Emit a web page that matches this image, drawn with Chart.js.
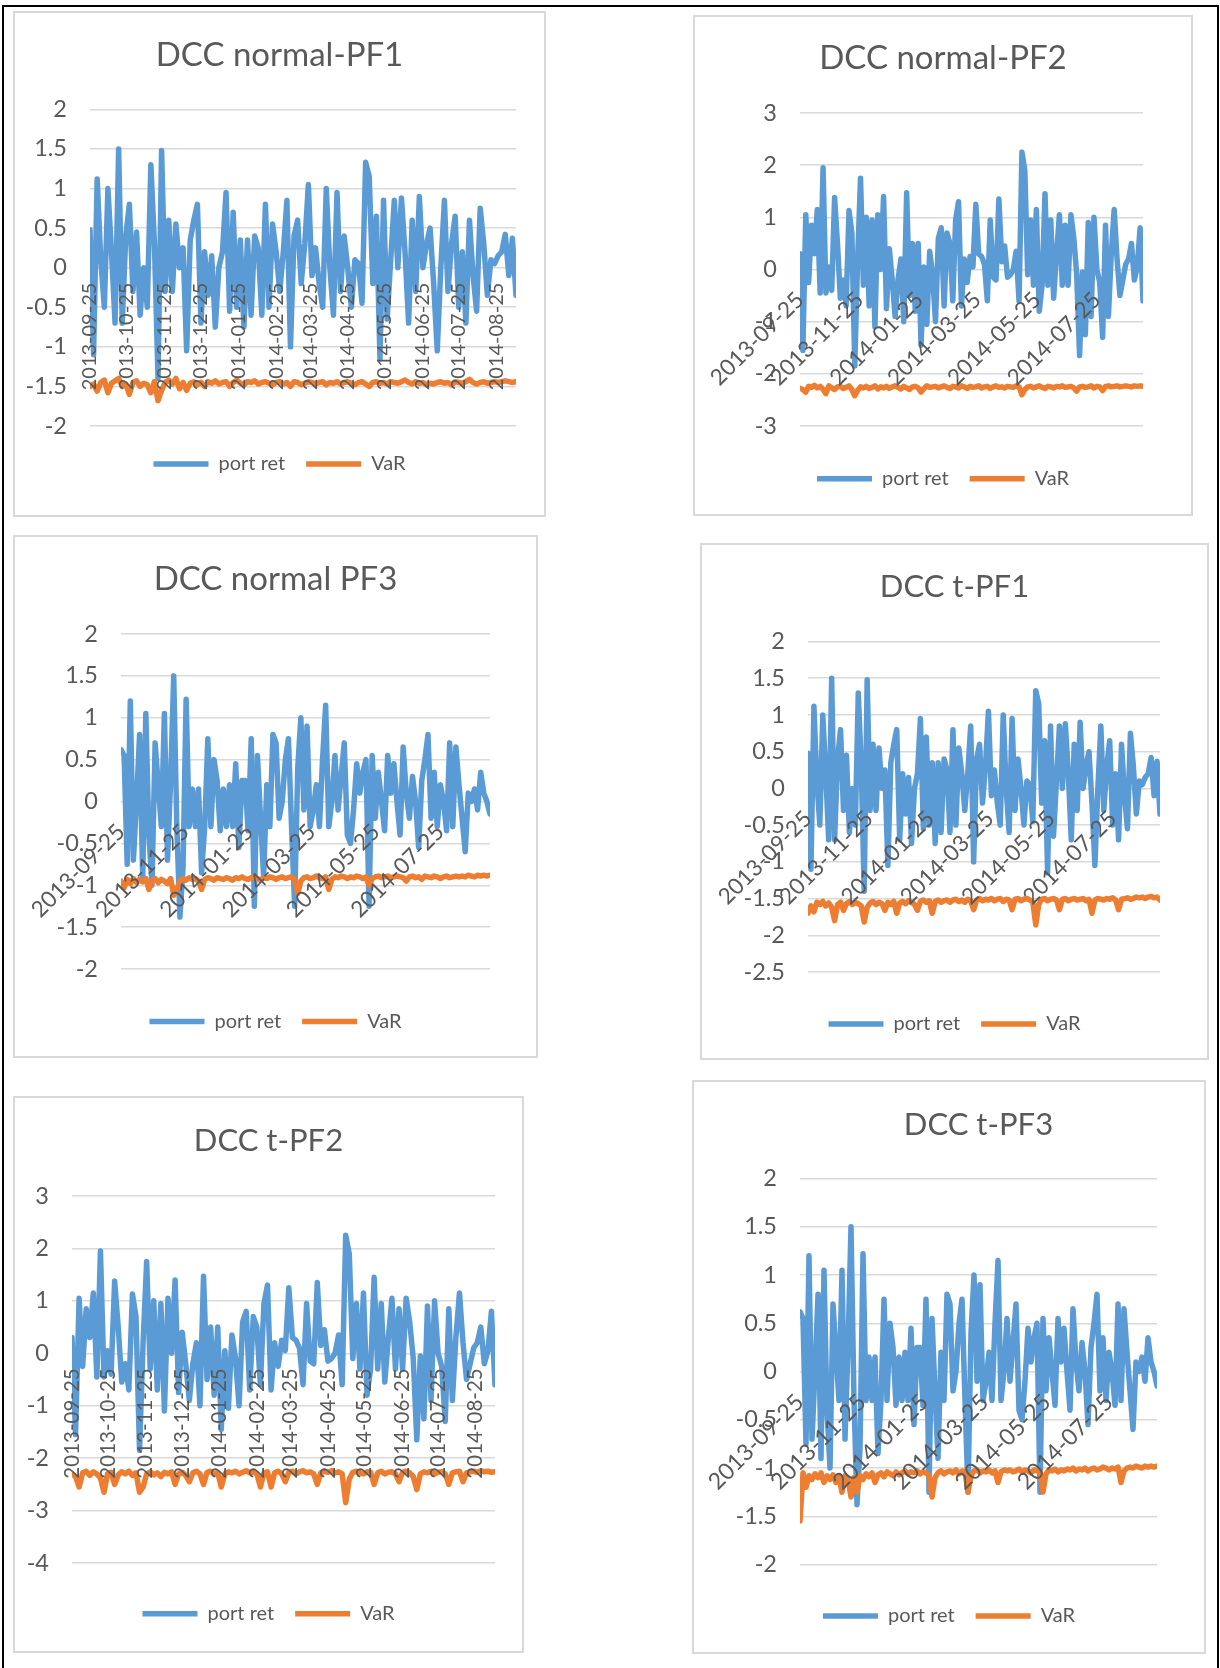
<!DOCTYPE html>
<html>
<head>
<meta charset="utf-8">
<script src="https://cdn.jsdelivr.net/npm/chart.js@4.4.1/dist/chart.umd.min.js"></script>
<style>
  body { margin: 0; background: #fff; width: 1220px; height: 1668px; position: relative; overflow: hidden; }
  #frame { position: absolute; left: 2px; top: 5px; width: 1213px; height: 1700px; border-top: 2px solid #000; border-left: 2px solid #000; border-right: 2px solid #000; }
  .panel { position: absolute; border: 2px solid #d9d9d9; box-sizing: border-box; background: #fff; }
  .panel canvas { position: absolute; left: 0; top: 0; }
</style>
</head>
<body>
<div id="frame"></div>
<script>
// observation window and x-axis tick labels
const seriesStart = '2013-09-25';
const seriesEnd = '2014-09-10';
const monthTicks = ['2013-09-25', '2013-10-25', '2013-11-25', '2013-12-25', '2014-01-25', '2014-02-25',
  '2014-03-25', '2014-04-25', '2014-05-25', '2014-06-25', '2014-07-25', '2014-08-25'];
const bimonthTicks = ['2013-09-25', '2013-11-25', '2014-01-25', '2014-03-25', '2014-05-25', '2014-07-25'];

// portfolio returns (same series in normal and t panels)
const portRetPF1 = [
  0.48, -1.1, 1.12, 0.1, -0.5, 1.0, 0.2, -0.7, 1.5, -0.7,
  0.4, 0.8, -0.3, 0.45, -0.6, 0.0, -0.5, 1.3, 0.3, -1.4,
  1.48, -0.3, 0.6, -0.3, 0.55, 0.0, 0.25, -1.05, 0.35, 0.6,
  0.8, -0.7, 0.2, -0.35, 0.15, -0.75, 0.0, 0.2, 0.95, -0.55,
  0.7, -0.5, 0.35, -0.75, 0.35, -0.6, 0.4, 0.25, -0.6, 0.8,
  -0.5, 0.55, 0.2, -0.3, 0.2, 0.85, -1.0, 0.4, 0.6, -0.2,
  0.3, 1.05, -0.1, 0.25, -0.2, -0.5, 1.0, 0.0, -0.6, 0.95,
  -0.3, 0.4, 0.0, -0.5, 0.1, 0.05, -0.45, 1.33, 1.15, -0.2,
  0.65, -1.15, 0.85, -0.65, 0.1, 0.85, 0.0, 0.88, 0.2, -0.7,
  0.6, -0.3, 0.9, 0.0, 0.3, 0.5, -0.2, -1.05, 0.0, 0.85,
  -0.3, 0.3, 0.65, -0.5, 0.2, -0.7, 0.6, -0.1, -0.55, 0.75,
  0.3, -0.35, 0.1, 0.05, 0.15, 0.2, 0.42, -0.1, 0.37, -0.35
];
const portRetPF2 = [
  0.3, -1.55, 1.05, -0.25, 0.85, 0.3, 1.15, -0.45, 1.95, -0.45,
  0.05, -0.4, 1.38, 0.5, -0.55, -0.2, -0.7, 1.13, 0.7, -1.85,
  0.2, 1.75, -0.3, 1.0, -0.7, 0.95, -1.1, 1.05, 0.0, 1.4,
  -0.75, 0.4, -0.2, -0.9, -0.2, 0.2, -1.0, 1.47, -0.5, 0.5,
  -0.8, 0.5, -1.45, 0.05, -1.05, 0.35, -0.1, -1.0, 0.6, 0.8,
  -0.7, 0.7, 0.5, -0.6, 0.95, 1.3, -0.7, 0.2, -0.25, 0.25,
  0.05, 1.25, 0.3, 0.25, 0.1, -0.6, 0.95, -0.15, -0.2, 1.35,
  0.15, 0.45, -0.15, -0.1, 0.0, 0.35, -0.6, 2.25, 1.9, -0.1,
  0.95, -0.3, 1.15, -0.8, -0.3, 1.45, -0.3, 0.95, -0.55, 0.3,
  1.05, -0.3, 0.85, -0.3, 1.05, 0.6, -0.1, -1.65, -0.05, -1.25,
  0.9, -0.9, 1.0, 0.0, -0.25, -1.3, 0.85, -0.9, 0.3, 1.15,
  0.2, -0.5, -0.2, 0.1, 0.2, 0.5, -0.2, 0.05, 0.8, -0.6
];
const portRetPF3 = [
  0.62, 0.55, -0.75, 1.2, -0.7, 0.0, 0.8, -0.9, 1.05, -0.4,
  -1.0, 0.7, 0.2, -0.3, 1.05, -0.7, 0.25, 1.5, -0.3, -1.38,
  -0.8, 1.22, -0.3, 0.15, -0.3, 0.15, -0.85, -0.3, 0.75, -0.3,
  0.5, 0.25, -0.35, 0.15, -0.3, 0.2, -0.3, 0.45, -0.55, 0.25,
  0.25, -0.35, 0.75, -1.25, 0.55, -0.2, -0.9, 0.2, -0.3, 0.8,
  0.7, -0.2, 0.0, 0.5, 0.75, -0.3, -1.25, 0.4, 1.0, -0.1,
  0.9, -0.3, -0.1, 0.2, -0.3, 0.5, 1.15, -0.3, 0.0, 0.55,
  -0.1, 0.3, 0.7, -0.4, -0.5, -0.1, 0.45, 0.1, 0.35, 0.5,
  -1.25, 0.55, -0.2, 0.35, 0.0, -0.35, 0.55, 0.1, 0.45, 0.0,
  -0.4, 0.65, 0.1, -0.2, 0.3, 0.0, -0.55, 0.25, 0.5, 0.8,
  -0.2, 0.35, -0.3, 0.2, 0.0, -0.35, 0.7, -0.3, 0.65, 0.2,
  -0.2, -0.6, 0.1, 0.0, 0.15, -0.1, 0.35, 0.1, 0.0, -0.15
];

// VaR series
const varNormalPF1 = [
  -1.50, -1.47, -1.56, -1.45, -1.42, -1.58, -1.46, -1.43, -1.40, -1.50,
  -1.47, -1.60, -1.45, -1.43, -1.50, -1.46, -1.48, -1.58, -1.44, -1.68,
  -1.55, -1.45, -1.42, -1.47, -1.40, -1.53, -1.45, -1.55, -1.46, -1.44,
  -1.48, -1.45, -1.50, -1.44, -1.46, -1.43, -1.47, -1.45, -1.44, -1.50,
  -1.45, -1.42, -1.46, -1.48, -1.44, -1.45, -1.43, -1.47, -1.45, -1.44,
  -1.46, -1.48, -1.45, -1.44, -1.47, -1.45, -1.50, -1.44, -1.45, -1.48,
  -1.46, -1.44, -1.45, -1.47, -1.45, -1.44, -1.48, -1.45, -1.46, -1.44,
  -1.47, -1.45, -1.44, -1.46, -1.48, -1.45, -1.44, -1.47, -1.50, -1.45,
  -1.44, -1.46, -1.45, -1.47, -1.44, -1.45, -1.46, -1.44, -1.42, -1.45,
  -1.47, -1.44, -1.46, -1.45, -1.48, -1.46, -1.47, -1.45, -1.44, -1.46,
  -1.45, -1.48, -1.44, -1.45, -1.46, -1.44, -1.41, -1.45, -1.47, -1.45,
  -1.44, -1.46, -1.45, -1.44, -1.45, -1.44, -1.43, -1.44, -1.45, -1.44
];
const varNormalPF2 = [
  -2.28, -2.30, -2.35, -2.24, -2.26, -2.22, -2.27, -2.24, -2.30, -2.38,
  -2.23, -2.27, -2.30, -2.25, -2.24, -2.28, -2.26, -2.23, -2.30, -2.42,
  -2.32, -2.25, -2.27, -2.24, -2.28, -2.26, -2.23, -2.29, -2.25, -2.27,
  -2.24, -2.28, -2.25, -2.23, -2.26, -2.29, -2.24, -2.27, -2.30, -2.25,
  -2.24, -2.27, -2.35, -2.28, -2.23, -2.26, -2.25, -2.24, -2.27, -2.25,
  -2.23, -2.26, -2.28, -2.24, -2.25, -2.27, -2.23, -2.25, -2.28, -2.24,
  -2.26, -2.25, -2.23, -2.27, -2.25, -2.24, -2.28, -2.25, -2.23, -2.26,
  -2.25, -2.27, -2.24, -2.25, -2.26, -2.23, -2.25, -2.40, -2.30, -2.25,
  -2.24, -2.27, -2.25, -2.23, -2.26, -2.28, -2.24, -2.25, -2.27, -2.24,
  -2.25, -2.23, -2.26, -2.25, -2.24, -2.27, -2.33, -2.25, -2.24, -2.26,
  -2.25, -2.23, -2.27, -2.24, -2.25, -2.32, -2.24, -2.23, -2.25, -2.24,
  -2.23, -2.25, -2.24, -2.23, -2.24, -2.25, -2.23, -2.24, -2.23, -2.24
];
const varNormalPF3 = [
  -0.95, -1.03, -0.93, -0.98, -0.92, -0.97, -0.93, -0.96, -0.92, -1.05,
  -0.95, -0.92, -0.97, -0.93, -0.95, -0.98, -0.92, -1.12, -1.05, -0.95,
  -0.92, -0.94, -0.91, -0.93, -0.92, -0.95, -1.05, -0.93, -0.91, -0.92,
  -0.94, -0.91, -0.92, -0.93, -0.91, -0.92, -0.94, -0.91, -0.92, -0.90,
  -0.92, -0.93, -0.91, -0.90, -0.92, -0.94, -0.91, -0.92, -0.90, -0.91,
  -0.93, -0.91, -0.90, -0.92, -0.91, -0.90, -0.93, -1.10, -0.95, -0.91,
  -0.90, -0.92, -0.91, -0.89, -0.91, -0.92, -0.90, -1.05, -0.93, -0.90,
  -0.91, -0.89, -0.90, -0.92, -0.90, -0.91, -0.89, -0.90, -0.92, -0.90,
  -1.00, -0.92, -0.90, -0.89, -0.91, -0.90, -0.89, -0.91, -0.90, -0.89,
  -0.90, -0.91, -0.95, -0.90, -0.89, -0.91, -0.90, -0.93, -0.89, -0.90,
  -0.91, -0.89, -0.90, -0.92, -0.90, -0.89, -0.91, -0.90, -0.89, -0.90,
  -0.89, -0.90, -0.88, -0.89, -0.90, -0.88, -0.89, -0.88, -0.89, -0.88
];
const varTPF1 = [
  -1.70, -1.60, -1.68, -1.55, -1.58, -1.54, -1.60, -1.56, -1.62, -1.80,
  -1.58, -1.55, -1.66, -1.57, -1.54, -1.58, -1.55, -1.57, -1.60, -1.82,
  -1.62, -1.56, -1.54, -1.58, -1.55, -1.57, -1.66, -1.55, -1.58, -1.54,
  -1.70, -1.56, -1.54, -1.57, -1.53, -1.55, -1.58, -1.66, -1.54, -1.52,
  -1.55, -1.53, -1.70, -1.54, -1.52, -1.55, -1.53, -1.52, -1.55, -1.52,
  -1.51, -1.54, -1.52, -1.55, -1.51, -1.53, -1.65, -1.52, -1.50, -1.53,
  -1.51, -1.52, -1.50, -1.53, -1.51, -1.50, -1.54, -1.51, -1.52, -1.65,
  -1.51, -1.50, -1.53, -1.51, -1.50, -1.52, -1.55, -1.86, -1.58, -1.51,
  -1.50, -1.53, -1.51, -1.50, -1.52, -1.65, -1.51, -1.50, -1.53, -1.51,
  -1.50, -1.52, -1.51, -1.50, -1.53, -1.51, -1.70, -1.52, -1.50, -1.51,
  -1.52, -1.50, -1.51, -1.49, -1.52, -1.65, -1.51, -1.50, -1.49, -1.51,
  -1.50, -1.48, -1.49, -1.48, -1.50, -1.48, -1.47, -1.49, -1.48, -1.52
];
const varTPF2 = [
  -2.30, -2.35, -2.55, -2.28, -2.25, -2.33, -2.26, -2.30, -2.38, -2.65,
  -2.30, -2.27, -2.50, -2.32, -2.26, -2.30, -2.25, -2.33, -2.28, -2.65,
  -2.55, -2.30, -2.26, -2.32, -2.28, -2.35, -2.27, -2.30, -2.26, -2.50,
  -2.30, -2.27, -2.33, -2.45, -2.28, -2.25, -2.30, -2.50, -2.27, -2.25,
  -2.30, -2.28, -2.55, -2.30, -2.26, -2.28, -2.25, -2.30, -2.27, -2.24,
  -2.28, -2.26, -2.30, -2.55, -2.28, -2.26, -2.55, -2.28, -2.25, -2.30,
  -2.45, -2.27, -2.25, -2.30, -2.26, -2.24, -2.28, -2.26, -2.30, -2.50,
  -2.28, -2.25, -2.27, -2.24, -2.28, -2.26, -2.30, -2.85, -2.40, -2.27,
  -2.25, -2.28, -2.30, -2.26, -2.27, -2.50, -2.28, -2.25, -2.30, -2.27,
  -2.26, -2.30, -2.45, -2.27, -2.25, -2.28, -2.35, -2.60, -2.30, -2.26,
  -2.28, -2.25, -2.30, -2.27, -2.26, -2.30, -2.50, -2.28, -2.26, -2.25,
  -2.45, -2.28, -2.26, -2.25, -2.27, -2.24, -2.26, -2.25, -2.27, -2.26
];
const varTPF3 = [
  -1.55, -1.05, -1.20, -1.08, -1.12, -1.06, -1.10, -1.05, -1.15, -1.08,
  -1.12, -1.07, -1.15, -1.09, -1.25, -1.08, -1.12, -1.30, -1.10, -1.25,
  -1.08, -1.12, -1.06, -1.09, -1.05, -1.15, -1.07, -1.05, -1.09, -1.04,
  -1.06, -1.08, -1.04, -1.07, -1.05, -1.03, -1.06, -1.04, -1.05, -1.03,
  -1.06, -1.04, -1.05, -1.08, -1.30, -1.10, -1.05, -1.03, -1.06, -1.04,
  -1.03, -1.05, -1.02, -1.06, -1.03, -1.04, -1.25, -1.08, -1.03, -1.02,
  -1.05, -1.03, -1.04, -1.02, -1.05, -1.03, -1.15, -1.04, -1.02, -1.03,
  -1.02, -1.04, -1.03, -1.01, -1.04, -1.02, -1.03, -1.05, -1.02, -1.03,
  -1.04, -1.25, -1.06, -1.02, -1.03, -1.01, -1.04, -1.02, -1.03, -1.01,
  -1.02, -1.00, -1.03, -1.01, -1.02, -1.00, -1.03, -1.01, -1.00, -1.02,
  -1.01, -0.99, -1.00, -1.02, -1.00, -1.01, -0.99, -1.15, -1.03, -1.00,
  -0.99, -1.00, -0.98, -0.99, -1.00, -0.98, -0.99, -0.98, -0.99, -0.98
];

const dayMs = 86400000;
const dayOf = d => (Date.parse(d) - Date.parse(seriesStart)) / dayMs;
const totalDays = dayOf(seriesEnd);

const LEGEND_SIZE = 20;
const Y_TICK_SIZE = 23.5;
const TEXT = '#595959';

Chart.defaults.font.family = 'Lato, "Open Sans", sans-serif';
Chart.defaults.color = TEXT;

// panel boxes and plot areas in page pixels
const panels = [
  { title: 'DCC normal-PF1', box: [13, 11, 546, 517], plot: [90, 109.3, 516, 426], titleY: 55, legendY: 464, titleSize: 33,
    ret: portRetPF1, vaR: varNormalPF1, min: -2, max: 2, step: 0.5, ticks: monthTicks, rot: 90, pad: 15, xSize: 20 },
  { title: 'DCC normal-PF2', box: [693, 15, 1193, 516], plot: [800, 113, 1143, 426], titleY: 58.7, legendY: 478.7, titleSize: 33,
    ret: portRetPF2, vaR: varNormalPF2, min: -3, max: 3, step: 1, ticks: bimonthTicks, rot: 45, pad: 17, xSize: 22.5 },
  { title: 'DCC normal PF3', box: [13, 535, 538, 1058], plot: [121, 634, 490, 969], titleY: 579.6, legendY: 1021.5, titleSize: 33,
    ret: portRetPF3, vaR: varNormalPF3, min: -2, max: 2, step: 0.5, ticks: bimonthTicks, rot: 45, pad: 17, xSize: 22.5 },
  { title: 'DCC t-PF1', box: [700, 543, 1209, 1060], plot: [808, 641.5, 1160, 972], titleY: 587, legendY: 1024, titleSize: 31,
    ret: portRetPF1, vaR: varTPF1, min: -2.5, max: 2, step: 0.5, ticks: bimonthTicks, rot: 45, pad: 17, xSize: 22.5 },
  { title: 'DCC t-PF2', box: [13, 1096, 524, 1653], plot: [72, 1196, 495, 1563], titleY: 1140.6, legendY: 1613.7, titleSize: 31,
    ret: portRetPF2, vaR: varTPF2, min: -4, max: 3, step: 1, ticks: monthTicks, rot: 90, pad: 15, xSize: 20.5 },
  { title: 'DCC t-PF3', box: [692, 1080, 1206, 1654], plot: [800, 1178.6, 1157, 1564.5], titleY: 1125, legendY: 1616, titleSize: 31,
    ret: portRetPF3, vaR: varTPF3, min: -2, max: 2, step: 0.5, ticks: bimonthTicks, rot: 45, pad: 17, xSize: 23, plotTitle: true }
];

panels.forEach(p => {
  const [bx1, by1, bx2, by2] = p.box;
  const [pl, pt, pr, pb] = p.plot;
  const div = document.createElement('div');
  div.className = 'panel';
  div.style.left = bx1 + 'px';
  div.style.top = by1 + 'px';
  div.style.width = (bx2 - bx1) + 'px';
  div.style.height = (by2 - by1) + 'px';
  const canvas = document.createElement('canvas');
  const cw = bx2 - bx1 - 4, ch = by2 - by1 - 4;
  canvas.width = cw; canvas.height = ch;
  canvas.style.width = cw + 'px'; canvas.style.height = ch + 'px';
  div.appendChild(canvas);
  document.body.appendChild(div);

  const ox = bx1 + 2, oy = by1 + 2;
  const titleLH = p.titleSize * 1.2;
  const legendGap = 21;
  const legendExtra = Math.max(0, p.legendY - pb - LEGEND_SIZE / 2 - legendGap - 1);
  const legendH = 1 + legendExtra + LEGEND_SIZE + legendGap + 10;
  const days = p.ret.map((_, i) => i * totalDays / (p.ret.length - 1));
  const tickDays = p.ticks.map(dayOf);
  const lineStyle = { borderWidth: 5.5, pointRadius: 0, pointHoverRadius: 0, tension: 0, borderJoinStyle: 'round', borderCapStyle: 'round' };

  new Chart(canvas, {
    type: 'line',
    data: {
      labels: days,
      datasets: [
        Object.assign({ label: 'port ret', data: p.ret, borderColor: '#5B9BD5', backgroundColor: '#5B9BD5', order: 1 }, lineStyle),
        Object.assign({ label: 'VaR', data: p.vaR, borderColor: '#ED7D31', backgroundColor: '#ED7D31', order: 0 }, lineStyle)
      ]
    },
    options: {
      responsive: false,
      animation: false,
      layout: { padding: { left: 0, right: 0, top: 0, bottom: ch - (pb - oy) - legendH } },
      plugins: {
        title: {
          display: true, text: p.title, fullSize: !p.plotTitle, color: TEXT,
          font: { size: p.titleSize, weight: 'normal', lineHeight: 1.2 },
          padding: { top: p.titleY - oy - titleLH / 2, bottom: pt - p.titleY - titleLH / 2 }
        },
        legend: {
          position: 'bottom',
          title: { display: true, text: '', font: { size: 1, lineHeight: 1 }, padding: { top: legendExtra, bottom: 0 } },
          labels: {
            usePointStyle: true, pointStyle: 'line', pointStyleWidth: 55, padding: legendGap, color: TEXT,
            font: { size: LEGEND_SIZE }, sort: (a, b) => a.datasetIndex - b.datasetIndex
          }
        },
        tooltip: { enabled: false }
      },
      scales: {
        x: {
          type: 'linear', position: { y: 0 }, min: 0, max: totalDays,
          grid: { display: false, drawTicks: false }, border: { display: false },
          afterBuildTicks: s => { s.ticks = tickDays.map(v => ({ value: v })); },
          afterFit: s => { s.height = 0; s.paddingLeft = 0; s.paddingTop = 0; s.paddingBottom = 0; s.paddingRight = bx2 - 2 - pr; },
          ticks: {
            z: 1, autoSkip: false, minRotation: p.rot, maxRotation: p.rot, padding: p.pad, color: TEXT,
            font: { size: p.xSize }, callback: (v, i) => p.ticks[i]
          }
        },
        y: {
          min: p.min, max: p.max,
          afterFit: s => { s.width = pl - ox; },
          ticks: { stepSize: p.step, padding: 23, color: TEXT, font: { size: Y_TICK_SIZE }, callback: v => String(v) },
          grid: { color: '#d9d9d9', lineWidth: 1.5, drawTicks: false },
          border: { display: false }
        }
      }
    }
  });
});
</script>
</body>
</html>
